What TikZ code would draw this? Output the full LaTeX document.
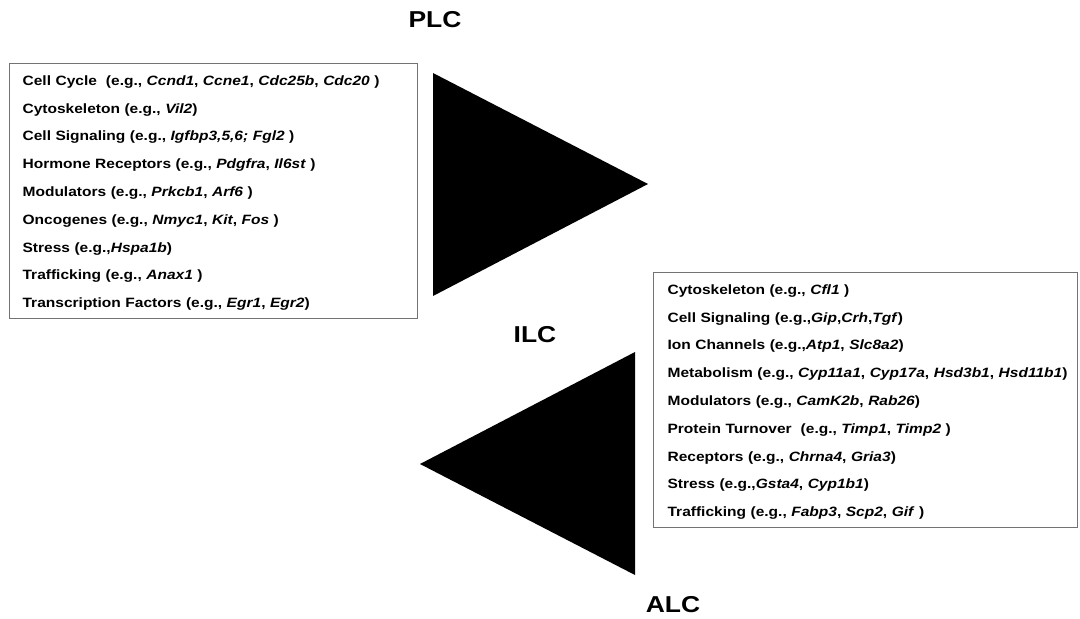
\documentclass[tikz,border=0pt]{standalone}
\usepackage{fontspec}
\setmainfont[FakeStretch=1.15,WordSpace=1.4]{Liberation Sans}
\usepackage{tikz}
\definecolor{boxgray}{rgb}{0.45,0.45,0.45}
\newcommand{\gn}[1]{\textit{#1}}
\newcommand{\toprow}{\rule{0pt}{13.7pt}}
\tikzset{
  catbox/.style={draw=boxgray,line width=1.2pt,anchor=north west,align=left,
    font=\fontsize{13.5}{27.8}\selectfont\bfseries,minimum height=255},
  stage/.style={font=\fontsize{23}{23}\selectfont\bfseries}
}
\begin{document}
\begin{tikzpicture}[x=1pt,y=-1pt,line join=miter]
\useasboundingbox (0,0) rectangle (1080,619);
% category boxes
\node[catbox,text width=382,inner xsep=13] (plcbox) at (9,63) {%
\toprow Cell Cycle \ (e.g., \gn{Ccnd1}, \gn{Ccne1}, \gn{Cdc25b}, \gn{Cdc20} )\\
Cytoskeleton (e.g., \gn{Vil2})\\
Cell Signaling (e.g., \gn{Igfbp3,5,6; Fgl2} )\\
Hormone Receptors (e.g., \gn{Pdgfra}, \gn{Il6st} )\\
Modulators (e.g., \gn{Prkcb1}, \gn{Arf6} )\\
Oncogenes (e.g., \gn{Nmyc1}, \gn{Kit}, \gn{Fos} )\\
Stress (e.g.,\gn{Hspa1b})\\
Trafficking (e.g., \gn{Anax1} )\\
Transcription Factors (e.g., \gn{Egr1}, \gn{Egr2})};
\node[catbox,text width=396,inner xsep=14] (alcbox) at (653,272) {%
\toprow Cytoskeleton (e.g., \gn{Cfl1} )\\
Cell Signaling (e.g.,\gn{Gip},\gn{Crh},\gn{Tgf})\\
Ion Channels (e.g.,\gn{Atp1}, \gn{Slc8a2})\\
\mbox{Metabolism (e.g., \gn{Cyp11a1}, \gn{Cyp17a}, \gn{Hsd3b1}, \gn{Hsd11b1})}\\
Modulators (e.g., \gn{CamK2b}, \gn{Rab26})\\
Protein Turnover \ (e.g., \gn{Timp1}, \gn{Timp2} )\\
Receptors (e.g., \gn{Chrna4}, \gn{Gria3})\\
Stress (e.g.,\gn{Gsta4}, \gn{Cyp1b1})\\
Trafficking (e.g., \gn{Fabp3}, \gn{Scp2}, \gn{Gif} )};
% stages
\node[stage] (plc) at (435,20) {PLC};
\node[stage] (ilc) at (535,335) {ILC};
\node[stage] (alc) at (673,605) {ALC};
% arrows
\fill (433,73) -- (433,296) -- (648,184) -- cycle;
\fill (635,352) -- (635,575) -- (420,464) -- cycle;
\end{tikzpicture}
\end{document}
